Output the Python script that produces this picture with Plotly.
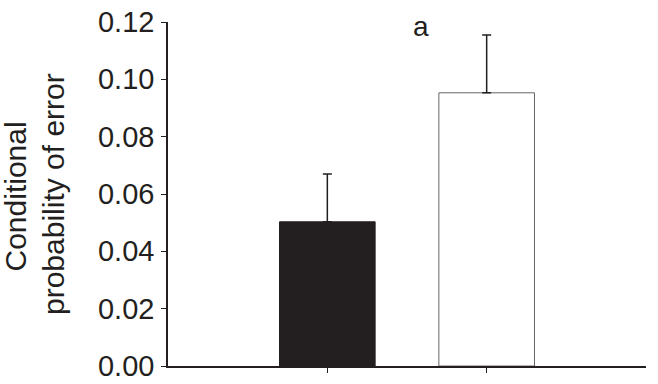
import plotly.graph_objects as go

categories = ["Group A", "Group B"]
x_pos = [0, 1]
means = [0.0503, 0.0953]
errors = [0.0167, 0.0202]
bar_fill = ["#231f20", "#ffffff"]
bar_line = ["#231f20", "#666666"]
y_ticks = [0.00, 0.02, 0.04, 0.06, 0.08, 0.10, 0.12]
y_tick_labels = ["0.00", "0.02", "0.04", "0.06", "0.08", "0.10", "0.12"]
ylabel_lines = ["Conditional", "probability of error"]
sig_label = "a"

FONT = "Liberation Sans, Arial, sans-serif"
INK = "#231f20"

fig = go.Figure()
fig.add_trace(go.Bar(
    x=x_pos, y=means, width=0.6,
    marker=dict(color=bar_fill, line=dict(color=bar_line, width=1)),
    error_y=dict(type="data", array=errors, arrayminus=[0, 0], symmetric=False,
                 color=INK, thickness=1.5, width=4.5),
    hoverinfo="skip", showlegend=False,
))

fig.update_layout(
    width=658, height=384,
    margin=dict(l=168, r=12, t=22, b=18, autoexpand=False),
    paper_bgcolor="white", plot_bgcolor="white",
    font=dict(family=FONT, color=INK),
    xaxis=dict(range=[-1, 2], tickvals=x_pos, ticktext=["", ""], ticks="outside",
               ticklen=5, tickwidth=1, tickcolor=INK, showline=True, linecolor=INK,
               linewidth=1.5, showgrid=False, zeroline=False, automargin=False),
    yaxis=dict(range=[0, 0.12], tickvals=y_ticks, ticktext=y_tick_labels,
               ticks="outside", ticklen=5, tickwidth=1, tickcolor=INK,
               showline=True, linecolor=INK, linewidth=1.5, showgrid=False,
               zeroline=False, tickfont=dict(size=29, family=FONT, color=INK),
               ticklabelstandoff=1, automargin=False),
)

fig.add_annotation(x=0.59, y=0.1185, xref="x", yref="y", text=sig_label,
                   showarrow=False, font=dict(size=28, family=FONT, color=INK),
                   xanchor="center", yanchor="middle")

fig.add_annotation(x=0, y=0.5, xref="paper", yref="paper", text=ylabel_lines[0],
                   textangle=-90, showarrow=False, xanchor="left", yanchor="middle",
                   xshift=-171.5, yshift=-2.5,
                   font=dict(size=30, family=FONT, color=INK))
fig.add_annotation(x=0, y=0.5, xref="paper", yref="paper", text=ylabel_lines[1],
                   textangle=-90, showarrow=False, xanchor="left", yanchor="middle",
                   xshift=-133.5, yshift=0,
                   font=dict(size=30, family=FONT, color=INK))

fig.write_html("out.html", config={"displayModeBar": False},
               post_script="document.body.style.margin='0';")
